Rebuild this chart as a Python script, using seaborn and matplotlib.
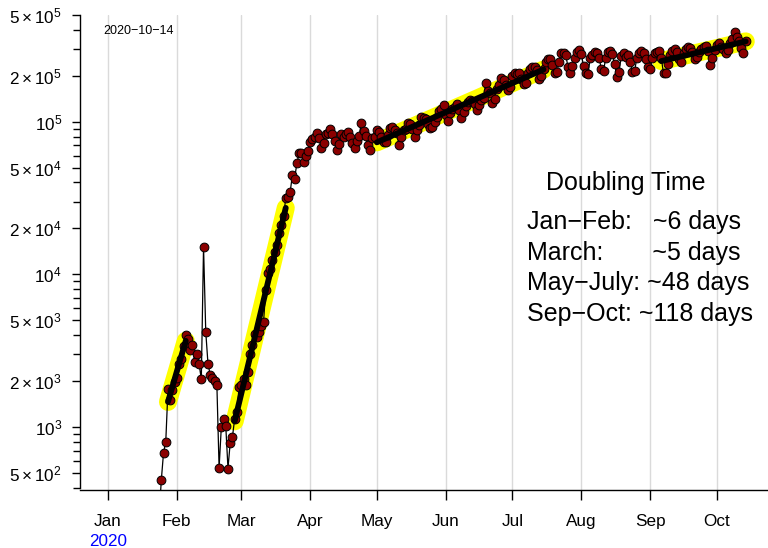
import numpy as np
import pandas as pd
import seaborn as sns
import matplotlib
matplotlib.use("Agg")
import matplotlib.pyplot as plt
import matplotlib.ticker as mticker

# daily new cases, 2020-01-23 .. 2020-10-14
cases_jan = [100, 260, 450, 680, 800, 1780, 1500, 1750, 1980]
cases_feb = [2100, 2600, 2800, 3400, 4000, 3800, 3200, 3450, 2650, 3000,
             2600, 2050, 15200, 4200, 2600, 2200, 2100, 2000, 1900, 540,
             1000, 1130, 1020, 535, 790, 860, 1130, 1260, 1830]
cases_mar = [1900, 2070, 1890, 2280, 3000, 3440, 4070, 3900, 4190, 4620,
             4870, 7900, 10200, 10900, 12400, 14000, 15600, 18600, 21000, 24000,
             31600, 32000, 34800, 44800, 42400, 53500, 62000, 62000, 54300, 60000,
             64600]
cases_apr = [74000, 76700, 79800, 84700, 77800, 66900, 72800, 82500, 84400, 89100,
             82500, 75000, 65300, 72000, 82500, 79500, 82500, 85600, 79000, 72800,
             66900, 75000, 80500, 98600, 87000, 80500, 70000, 65300, 77800, 80000]
cases_may = [87700, 86000, 80000, 74000, 74000, 82000, 90600, 92000, 88000, 84000,
             70500, 80000, 88000, 90000, 97700, 96000, 90000, 79000, 88000, 95000,
             108000, 106000, 104000, 96700, 90600, 92000, 100000, 108000, 118000, 122000,
             129000]
cases_jun = [110000, 101600, 114000, 122000, 124000, 130000, 120000, 105000, 115000, 127000,
             135000, 138000, 137000, 131000, 119000, 128000, 139000, 143000, 178000, 160000,
             155000, 132000, 141000, 165000, 174000, 192000, 188000, 175000, 162000, 170000]
cases_jul = [200000, 207000, 206000, 210000, 190000, 176000, 180000, 210000, 223000, 229000,
             229000, 218000, 190000, 200000, 220000, 245000, 258000, 256000, 235000, 207000,
             212000, 245000, 280000, 282000, 275000, 228000, 210000, 232000, 262000, 285000,
             295000]
cases_aug = [278000, 232000, 208000, 205000, 260000, 274000, 287000, 282000, 262000, 222000,
             215000, 262000, 288000, 290000, 276000, 240000, 197000, 212000, 270000, 282000,
             266000, 272000, 246000, 213000, 215000, 262000, 281000, 290000, 282000, 256000,
             228000]
cases_sep = [222000, 262000, 280000, 285000, 290000, 262000, 207000, 210000, 240000, 275000,
             290000, 298000, 285000, 258000, 245000, 283000, 298000, 308000, 302000, 285000,
             258000, 265000, 285000, 300000, 310000, 312000, 292000, 235000, 262000, 295000]
cases_oct = [318000, 328000, 310000, 300000, 281000, 295000, 330000, 350000, 389000, 360000,
             340000, 303000, 281000, 340000]

# periods used for the exponential fits
fit_starts = ["2020-01-28", "2020-02-27", "2020-05-01", "2020-09-06"]
fit_ends = ["2020-02-05", "2020-03-21", "2020-07-15", "2020-10-14"]

month_labels = ["Jan", "Feb", "Mar", "Apr", "May", "Jun", "Jul", "Aug", "Sep", "Oct"]
ytick_major = [500, 1000, 2000, 5000, 1e4, 2e4, 5e4, 1e5, 2e5, 5e5]
ytick_labels = [r"$5\times10^{2}$", r"$10^{3}$", r"$2\times10^{3}$", r"$5\times10^{3}$",
                r"$10^{4}$", r"$2\times10^{4}$", r"$5\times10^{4}$", r"$10^{5}$",
                r"$2\times10^{5}$", r"$5\times10^{5}$"]
ytick_minor = [400, 600, 700, 800, 900, 3000, 4000, 6000, 7000, 8000, 9000,
               3e4, 4e4, 6e4, 7e4, 8e4, 9e4, 3e5, 4e5]

box_title = "Doubling Time"
box_lines = ["Jan\u2212Feb:   ~6 days", "March:       ~5 days",
             "May\u2212July: ~48 days", "Sep\u2212Oct: ~118 days"]

sns.set_theme(style="white")
plt.rcParams["font.family"] = ["Liberation Sans", "DejaVu Sans"]
plt.rcParams["mathtext.fontset"] = "custom"
plt.rcParams["mathtext.rm"] = "Liberation Sans"
plt.rcParams["mathtext.it"] = "Liberation Sans:italic"
plt.rcParams["text.color"] = "black"

cases = cases_jan + cases_feb + cases_mar + cases_apr + cases_may + cases_jun + cases_jul + cases_aug + cases_sep + cases_oct
df = pd.DataFrame({"date": pd.date_range("2020-01-23", periods=len(cases), freq="D"),
                   "cases": cases})

fig = plt.figure(figsize=(7.68, 5.48), dpi=100)
ax = fig.add_axes([0.1042, 0.1058, 0.895, 0.8668])

# exponential fits (linear in log space)
fits = []
for a, b in zip(fit_starts, fit_ends):
    sub = df[(df["date"] >= a) & (df["date"] <= b)]
    t = (sub["date"] - sub["date"].iloc[0]).dt.days.values
    coef = np.polyfit(t, np.log(sub["cases"].values), 1)
    fits.append((sub["date"].values, np.exp(np.polyval(coef, t))))

for d, f in fits:
    sns.lineplot(x=d, y=f, color="yellow", linewidth=13, solid_capstyle="round", ax=ax, zorder=1)

sns.lineplot(data=df, x="date", y="cases", color="black", linewidth=0.9, ax=ax, zorder=2)
sns.scatterplot(data=df, x="date", y="cases", color="#8B0000", edgecolor="black",
                linewidth=0.7, s=40, ax=ax, zorder=3)

for d, f in fits:
    sns.lineplot(x=d, y=f, color="black", linewidth=4.2, solid_capstyle="round", ax=ax, zorder=4)

ax.set_yscale("log")
ax.set_ylim(387, 5e5)
ax.set_xlim(pd.Timestamp("2019-12-19 10:00"), pd.Timestamp("2020-10-23 18:00"))

months = pd.date_range("2020-01-01", "2020-10-01", freq="MS")
ax.set_xticks(months)
ax.set_xticklabels(month_labels)
ax.yaxis.set_major_locator(mticker.FixedLocator(ytick_major))
ax.yaxis.set_major_formatter(mticker.FixedFormatter(ytick_labels))
ax.yaxis.set_minor_locator(mticker.FixedLocator(ytick_minor))
ax.yaxis.set_minor_formatter(mticker.NullFormatter())

ax.set_axisbelow(True)
ax.xaxis.grid(True, color="#DADADA", linewidth=1)
ax.yaxis.grid(False)
ax.set_xlabel("")
ax.set_ylabel("")

ax.tick_params(axis="x", which="major", direction="out", length=7, width=1,
               color="black", labelcolor="black", pad=10, labelsize=12.3, bottom=True)
ax.tick_params(axis="y", which="major", direction="out", length=6, width=1,
               color="black", labelcolor="black", pad=7, labelsize=12.3, left=True)
ax.tick_params(axis="y", which="minor", direction="out", length=5, width=1,
               color="black", left=True)

for s in ["top", "right"]:
    ax.spines[s].set_visible(False)
for s in ["left", "bottom"]:
    ax.spines[s].set_color("black")
    ax.spines[s].set_linewidth(1)
ax.spines["left"].set_bounds(400, 5e5)

fig.text(108 / 768, 1 - 542 / 548, "2020", color="blue", ha="center", va="center", fontsize=12.3)
fig.text(103 / 768, 1 - 31 / 548, "2020\u221210\u221214", ha="left", va="center", fontsize=9)

fig.text(626 / 768, 1 - 183 / 548, box_title, ha="center", va="center", fontsize=18)
for i, line in enumerate(box_lines):
    fig.text(527 / 768, 1 - (222 + 30.7 * i) / 548, line, ha="left", va="center", fontsize=18)

fig.savefig("out.png", dpi=100)
